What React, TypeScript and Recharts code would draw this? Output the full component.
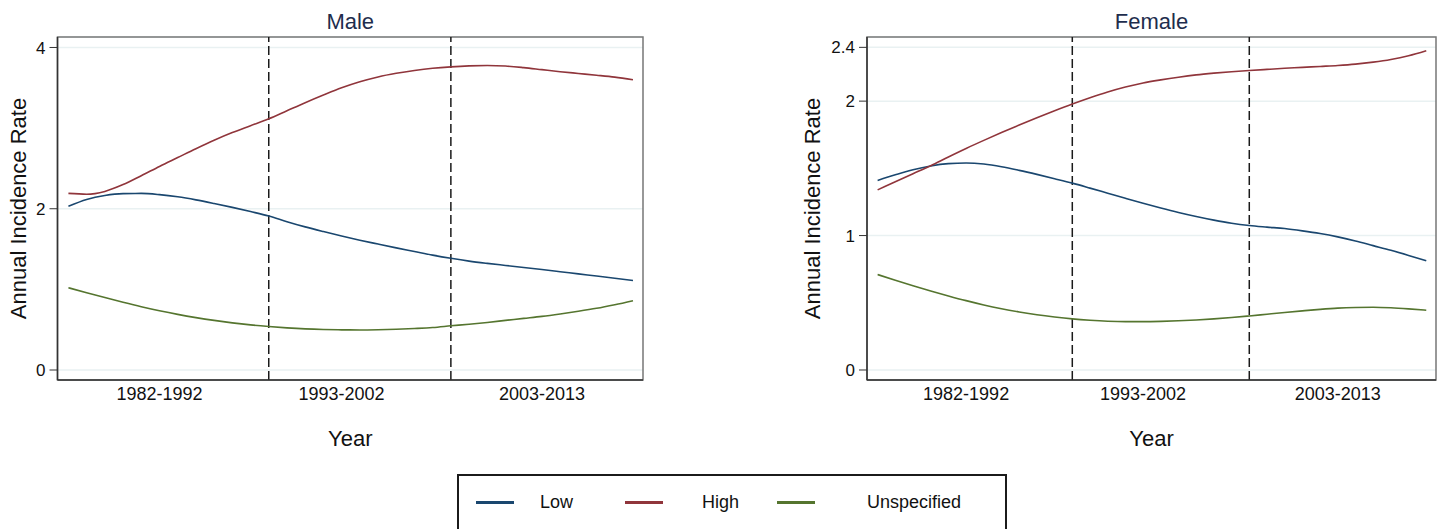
import React from 'react';
import { LineChart, Line, XAxis, YAxis, CartesianGrid, ReferenceLine, ReferenceArea } from 'recharts';

const years = [
  1982, 1983, 1984, 1985, 1986, 1987, 1988, 1989, 1990, 1991, 1992, 1993, 1994, 1995, 1996, 1997,
  1998, 1999, 2000, 2001, 2002, 2003, 2004, 2005, 2006, 2007, 2008, 2009, 2010, 2011, 2012, 2013,
];

const maleLow = [
  2.03, 2.115, 2.165, 2.188, 2.19, 2.175, 2.148, 2.11, 2.065, 2.017, 1.965, 1.91, 1.84, 1.775, 1.717, 1.662,
  1.61, 1.562, 1.515, 1.47, 1.425, 1.385, 1.35, 1.322, 1.297, 1.272, 1.246, 1.219, 1.192, 1.165, 1.138, 1.11,
];
const maleHigh = [
  2.19, 2.18, 2.215, 2.3, 2.41, 2.525, 2.635, 2.745, 2.85, 2.945, 3.03, 3.115, 3.215, 3.315, 3.41, 3.5,
  3.575, 3.635, 3.68, 3.715, 3.742, 3.76, 3.772, 3.777, 3.77, 3.75, 3.725, 3.7, 3.678, 3.656, 3.632, 3.6,
];
const maleUnspecified = [
  1.02, 0.958, 0.898, 0.84, 0.785, 0.735, 0.69, 0.65, 0.615, 0.585, 0.56, 0.54, 0.523, 0.51, 0.502, 0.498,
  0.497, 0.5, 0.506, 0.515, 0.527, 0.548, 0.568, 0.59, 0.615, 0.64, 0.665, 0.695, 0.728, 0.765, 0.81, 0.86,
];

const femaleLow = [
  1.41, 1.452, 1.49, 1.518, 1.535, 1.54, 1.532, 1.512, 1.485, 1.455, 1.423, 1.39, 1.353, 1.315, 1.277, 1.24,
  1.205, 1.172, 1.142, 1.115, 1.092, 1.075, 1.063, 1.052, 1.035, 1.015, 0.99, 0.96, 0.925, 0.89, 0.852, 0.812,
];
const femaleHigh = [
  1.34, 1.4, 1.46, 1.52, 1.585, 1.648, 1.708, 1.766, 1.822, 1.876, 1.928, 1.978, 2.025, 2.068, 2.105, 2.135,
  2.158, 2.178, 2.195, 2.208, 2.219, 2.228, 2.236, 2.244, 2.251, 2.258, 2.265, 2.275, 2.29, 2.31, 2.338, 2.375,
];
const femaleUnspecified = [
  0.71, 0.668, 0.627, 0.588, 0.551, 0.516, 0.484, 0.456, 0.432, 0.411, 0.394, 0.38, 0.37, 0.363, 0.36, 0.36,
  0.362, 0.366, 0.372, 0.38, 0.39, 0.402, 0.415, 0.428, 0.44, 0.451, 0.46, 0.465, 0.467, 0.463, 0.455, 0.445,
];

const periodLabels = ['1982-1992', '1993-2002', '2003-2013'];
const periodTicks = [1987, 1997, 2008];
const periodBreaks = [1993, 2003];
const maleTicks = [0, 2, 4];
const femaleTicks = [0, 1, 2, 2.4];

const seriesNames = ['Low', 'High', 'Unspecified'];
const seriesKeys = ['low', 'high', 'unspecified'];
const colors = ['#1a476f', '#90353b', '#55752f'];

const FONT = '"Liberation Sans", Arial, Helvetica, sans-serif';
const X_DOMAIN: [number, number] = [1981.4, 2013.55];

const buildRows = (low: number[], high: number[], unspecified: number[]) =>
  years.map((year, i) => ({ year, low: low[i], high: high[i], unspecified: unspecified[i] }));

const maleRows = buildRows(maleLow, maleHigh, maleUnspecified);
const femaleRows = buildRows(femaleLow, femaleHigh, femaleUnspecified);

interface PanelProps {
  title: string;
  data: Array<{ year: number; low: number; high: number; unspecified: number }>;
  yTicks: number[];
  yDomain: [number, number];
  left: number;
  width: number;
  yAxisWidth: number;
  rightMargin: number;
  yLabelOffset: number;
}

function Panel({ title, data, yTicks, yDomain, left, width, yAxisWidth, rightMargin, yLabelOffset }: PanelProps) {
  const plotLeft = left + yAxisWidth;
  const plotWidth = width - yAxisWidth - rightMargin;
  return (
    <>
      <div
        style={{
          position: 'absolute',
          left: plotLeft,
          width: plotWidth,
          top: 8,
          textAlign: 'center',
          fontFamily: FONT,
          fontSize: 22,
          color: '#1e2d4d',
          lineHeight: '28px',
        }}
      >
        {title}
      </div>
      <div style={{ position: 'absolute', left, top: 0 }}>
        <LineChart width={width} height={460} data={data} margin={{ top: 37, right: rightMargin, bottom: 0, left: 0 }}>
          <CartesianGrid horizontal vertical={false} stroke="#e9f1f2" strokeWidth={1.5} />
          <XAxis
            dataKey="year"
            type="number"
            domain={X_DOMAIN}
            allowDataOverflow
            ticks={periodTicks}
            tickFormatter={(v: number) => periodLabels[periodTicks.indexOf(v)] ?? ''}
            tickLine={false}
            tickSize={0}
            tickMargin={7}
            height={80}
            axisLine={{ stroke: '#333', strokeWidth: 1.5 }}
            tick={{ fill: '#111', fontSize: 18, fontFamily: FONT }}
            label={{
              value: 'Year',
              position: 'insideTop',
              offset: 50,
              style: { fill: '#111', fontSize: 22, fontFamily: FONT },
            }}
          />
          <YAxis
            type="number"
            domain={yDomain}
            allowDataOverflow
            ticks={yTicks}
            width={yAxisWidth}
            tickSize={8}
            tickMargin={4}
            axisLine={{ stroke: '#333', strokeWidth: 1.5 }}
            tickLine={{ stroke: '#333' }}
            tick={{ fill: '#111', fontSize: 17, fontFamily: FONT }}
            label={{
              value: 'Annual Incidence Rate',
              angle: -90,
              position: 'insideLeft',
              offset: yLabelOffset,
              style: { textAnchor: 'middle', fill: '#111', fontSize: 22, fontFamily: FONT },
            }}
          />
          <ReferenceArea
            x1={X_DOMAIN[0]}
            x2={X_DOMAIN[1]}
            y1={yDomain[0]}
            y2={yDomain[1]}
            fill="none"
            stroke="#777"
            strokeWidth={1.5}
            ifOverflow="visible"
          />
          {periodBreaks.map((b) => (
            <ReferenceLine key={b} x={b} stroke="#1a1a1a" strokeWidth={1.5} strokeDasharray="9 4" />
          ))}
          {seriesKeys.map((k, i) => (
            <Line
              key={k}
              type="monotone"
              dataKey={k}
              name={seriesNames[i]}
              stroke={colors[i]}
              strokeWidth={1.6}
              dot={false}
              activeDot={false}
              isAnimationActive={false}
            />
          ))}
        </LineChart>
      </div>
    </>
  );
}

const legendLineX = [476, 625, 777];
const legendTextX = [540, 702, 867];

export default function App() {
  return (
    <div
      style={{
        position: 'absolute',
        left: 0,
        top: 0,
        width: 1449,
        height: 529,
        overflow: 'hidden',
        background: '#fff',
      }}
    >
      <Panel
        title="Male"
        data={maleRows}
        yTicks={maleTicks}
        yDomain={[-0.124, 4.13]}
        left={0}
        width={660}
        yAxisWidth={57.5}
        rightMargin={17}
        yLabelOffset={18}
      />
      <Panel
        title="Female"
        data={femaleRows}
        yTicks={femaleTicks}
        yDomain={[-0.0744, 2.477]}
        left={790}
        width={655}
        yAxisWidth={77}
        rightMargin={9}
        yLabelOffset={22}
      />
      <div
        style={{
          position: 'absolute',
          left: 457,
          top: 474,
          width: 546,
          height: 70,
          border: '2.5px solid #1b1b1b',
          background: '#fff',
        }}
      />
      {seriesNames.map((name, i) => (
        <React.Fragment key={name}>
          <div
            style={{
              position: 'absolute',
              left: legendLineX[i],
              top: 500.5,
              width: 38,
              height: 3,
              background: colors[i],
            }}
          />
          <div
            style={{
              position: 'absolute',
              left: legendTextX[i],
              top: 491,
              fontFamily: FONT,
              fontSize: 18,
              lineHeight: '22px',
              color: '#111',
            }}
          >
            {name}
          </div>
        </React.Fragment>
      ))}
    </div>
  );
}
